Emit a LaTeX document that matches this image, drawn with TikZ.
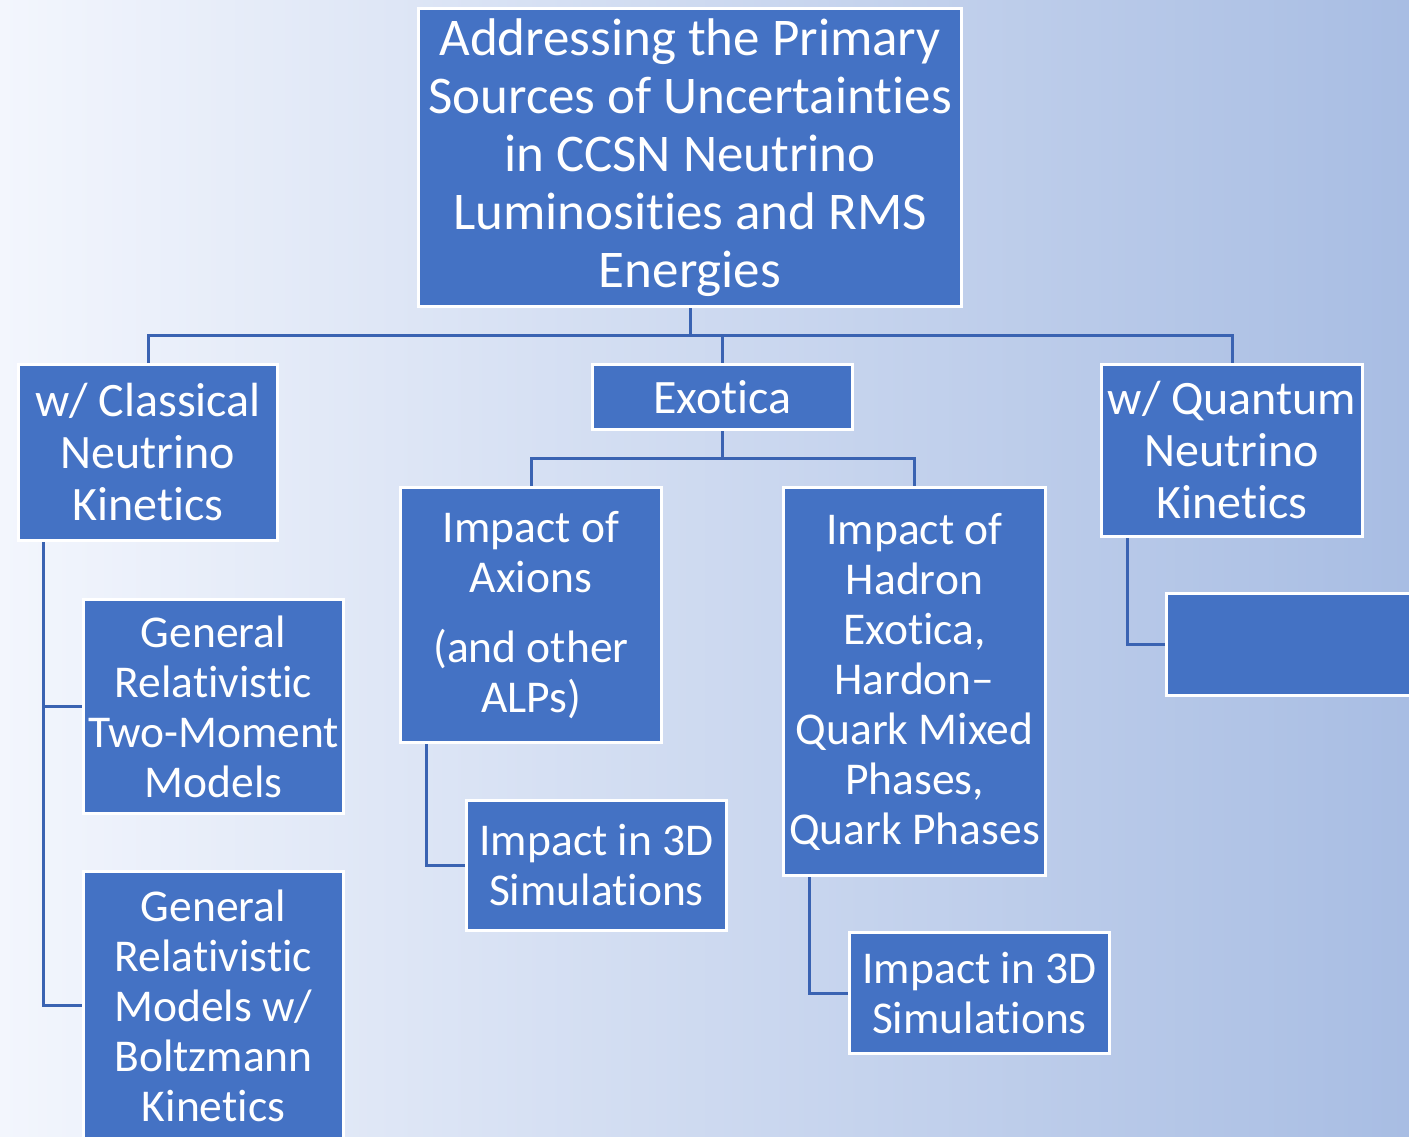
\documentclass[tikz,border=0pt]{standalone}
\usepackage{fontspec}
\setmainfont{Carlito}[Ligatures=CommonOff]
\usetikzlibrary{calc}
\definecolor{bgL}{HTML}{F3F6FD}
\definecolor{bgR}{HTML}{A8BDE3}
\definecolor{boxfill}{HTML}{4472C4}
\definecolor{linkcol}{HTML}{3A63B2}
\begin{document}
\begin{tikzpicture}[x=1pt,y=-1pt,
  box/.style={rectangle, draw=white, line width=3pt, fill=boxfill, text=white,
    inner sep=0pt, align=center, font=\fontsize{45.5}{50}\selectfont},
  midbox/.style={box, font=\fontsize{48}{52}\selectfont},
  bigbox/.style={box, font=\fontsize{53}{58}\selectfont},
  conn/.style={draw=linkcol, line width=3pt}]
% page frame and background
\useasboundingbox (0,0) rectangle (1409,1137);
\clip (0,0) rectangle (1409,1137);
\shade[left color=bgL, right color=bgR] (0,0) rectangle (1409,1137);

% top level
\node[bigbox, minimum width=543, minimum height=298] (root) at (690,157.5)
  {Addressing the Primary\\Sources of Uncertainties\\in CCSN Neutrino\\Luminosities and RMS\\Energies};

% second level
\node[midbox, minimum width=259, minimum height=176] (classical) at (148,452.5)
  {w/ Classical\\Neutrino\\Kinetics};
\node[midbox, minimum width=260, minimum height=65] (exotica) at (722.5,397)
  {Exotica};
\node[midbox, minimum width=261, minimum height=172] (quantum) at (1232,450.5)
  {w/ Quantum\\Neutrino\\Kinetics};

% classical branch
\node[box, minimum width=260, minimum height=214] (gr2) at (213.5,706.5)
  {General\\Relativistic\\Two-Moment\\Models};
\node[box, minimum width=260, minimum height=268] (grb) at (213.5,1005.5)
  {General\\Relativistic\\Models w/\\Boltzmann\\Kinetics};

% exotica branch
\node[box, minimum width=261, minimum height=255] (axions) at (531,615)
  {Impact of\\Axions\\[20pt](and other\\ALPs)};
\node[box, minimum width=260, minimum height=130] (ax3d) at (596.5,865.5)
  {Impact in 3D\\Simulations};
\node[box, minimum width=262, minimum height=388] (hadron) at (914.5,681.5)
  {Impact of\\Hadron\\Exotica,\\Hardon–\\Quark Mixed\\Phases,\\Quark Phases};
\node[box, minimum width=260, minimum height=121] (had3d) at (979.5,993)
  {Impact in 3D\\Simulations};

% quantum branch
\node[box, minimum width=262, minimum height=102] (qchild) at (1297.5,644.5) {};

% connectors: top level bus
\coordinate (bus) at ($(root.south)+(0,27)$);
\draw[conn] (root.south) -- (bus);
\draw[conn] (classical.north) |- (bus) -| (quantum.north);
\draw[conn] (bus -| exotica.north) -- (exotica.north);

% exotica bus
\coordinate (ebus) at ($(exotica.south)+(0,27)$);
\draw[conn] (exotica.south) -- (ebus);
\draw[conn] (axions.north) |- (ebus) -| (hadron.north);

% side connectors
\draw[conn] ([xshift=26pt]classical.south west) |- (gr2.west);
\draw[conn] ([xshift=26pt]classical.south west) |- (grb.west);
\draw[conn] ([xshift=27pt]axions.south west) |- (ax3d.west);
\draw[conn] ([xshift=27pt]hadron.south west) |- (had3d.west);
\draw[conn] ([xshift=27pt]quantum.south west) |- (qchild.west);
\end{tikzpicture}
\end{document}
